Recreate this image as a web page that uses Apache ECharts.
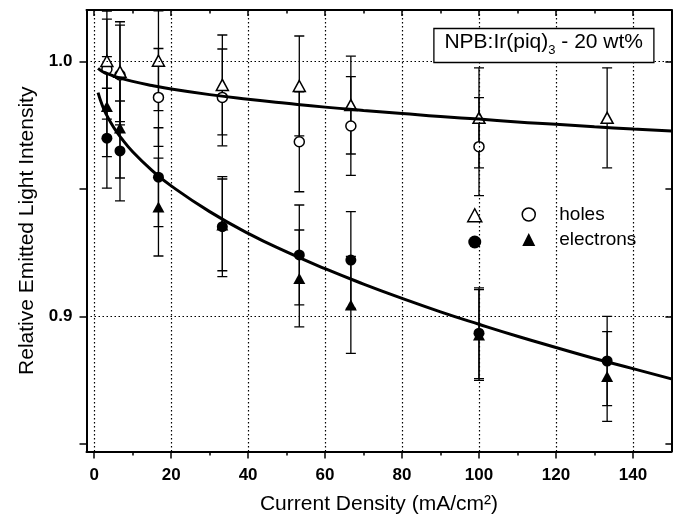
<!DOCTYPE html>
<html><head><meta charset="utf-8">
<script src="https://cdn.jsdelivr.net/npm/echarts@6/dist/echarts.min.js"></script>
<style>html,body{margin:0;padding:0;background:#fff}#c{width:675px;height:515px}</style>
</head><body><div id="c"></div>
<script>
// ---- data ----
const currentDensity = [3.3, 6.7, 16.7, 33.3, 53.3, 66.7, 100, 133.3];
const holesTriangle = [1.0003, 0.9961, 1.0004, 0.9909, 0.9905, 0.9830, 0.9780, 0.9780];
const holesTriangleErr = [0.0196, 0.0196, 0.0196, 0.0196, 0.0196, 0.0192, 0.0196, 0.0196];
const holesCircle = [0.9971, 0.9948, 0.9860, 0.9860, 0.9686, 0.9748, 0.9667, null];
const holesCircleErr = [0.0196, 0.0196, 0.0192, 0.0190, 0.0196, 0.0194, 0.0192, null];
const electronsCircle = [0.9700, 0.9650, 0.9547, 0.9353, 0.9242, 0.9222, 0.8935, 0.8826];
const electronsCircleErr = [0.0196, 0.0196, 0.0194, 0.0196, 0.0196, 0.0190, 0.0178, 0.0175];
const electronsTriangle = [0.9824, 0.9740, 0.9430, 0.9360, 0.9150, 0.9046, 0.8928, 0.8765];
const electronsTriangleErr = [0.0196, 0.0196, 0.0192, 0.0180, 0.0190, 0.0190, 0.0178, 0.0176];
const fitX = [1, 2, 3, 5, 7, 10, 15, 20, 30, 40, 50, 60, 70, 80, 90, 100, 110, 120, 130, 140, 150];
const holesFit = [0.9974, 0.9963, 0.9956, 0.9944, 0.9935, 0.9923, 0.9907, 0.9893, 0.9871, 0.9853, 0.9837, 0.9822, 0.9809, 0.9797, 0.9785, 0.9775, 0.9764, 0.9755, 0.9745, 0.9736, 0.9728];
const electronsFit = [0.9879, 0.9833, 0.9798, 0.9744, 0.9701, 0.9647, 0.9574, 0.9513, 0.9412, 0.9327, 0.9254, 0.9188, 0.9128, 0.9072, 0.9019, 0.8970, 0.8923, 0.8879, 0.8836, 0.8796, 0.8756];
const xMajorTicks = [0, 20, 40, 60, 80, 100, 120, 140];
const xMinorTicks = [10, 30, 50, 70, 90, 110, 130];
const yTicks = [0.85, 0.9, 0.95, 1.0];
const yLabels = [0.9, 1.0];
const xRange = [-2, 150];
const yRange = [0.8471, 1.0203];

const F = '"Liberation Sans", Arial, Helvetica, sans-serif';
const BLACK = '#000';

function pts(xs, ys) {
  return xs.map((x, i) => ys[i] == null ? null : [x, ys[i]]).filter(Boolean);
}
function errData(vals, errs) {
  return currentDensity.map((x, i) => vals[i] == null ? null : [x, vals[i] - errs[i], vals[i] + errs[i]]).filter(Boolean);
}
function errSeries(name, vals, errs) {
  return {
    type: 'custom', name: name, z: 2, silent: true, clip: true,
    data: errData(vals, errs),
    encode: { x: 0, y: [1, 2] },
    renderItem: function (params, api) {
      const x = api.value(0), lo = api.value(1), hi = api.value(2);
      const p1 = api.coord([x, hi]), p2 = api.coord([x, lo]);
      const w = 5;
      const style = { stroke: BLACK, lineWidth: 1.3, fill: null };
      return { type: 'group', children: [
        { type: 'line', shape: { x1: p1[0], y1: p1[1], x2: p2[0], y2: p2[1] }, style: style },
        { type: 'line', shape: { x1: p1[0] - w, y1: p1[1], x2: p1[0] + w, y2: p1[1] }, style: style },
        { type: 'line', shape: { x1: p2[0] - w, y1: p2[1], x2: p2[0] + w, y2: p2[1] }, style: style }
      ]};
    }
  };
}

const openStyle = { color: '#fff', borderColor: BLACK, borderWidth: 1.5, opacity: 1 };
const fillStyle = { color: BLACK, borderColor: BLACK, borderWidth: 0, opacity: 1 };

const baseX = { type: 'value', min: xRange[0], max: xRange[1], gridIndex: 0, splitLine: { show: false } };
const baseY = { type: 'value', min: yRange[0], max: yRange[1], gridIndex: 0, splitLine: { show: false } };

const option = {
  animation: false,
  backgroundColor: '#fff',
  grid: { left: 86.5, right: 3.6, top: 10, bottom: 63.5, containLabel: false, outerBoundsMode: 'none' },
  title: {
    text: '{a|NPB:Ir(piq)}{b|3}{a| - 20 wt%}',
    right: 21, top: 24,
    borderColor: BLACK, borderWidth: 1.3,
    padding: [3, 11, 6, 11],
    backgroundColor: '#fff',
    textStyle: { fontWeight: 'normal', rich: {
      a: { fontFamily: F, fontSize: 21, fontWeight: 'normal', color: BLACK, lineHeight: 30 },
      b: { fontFamily: F, fontSize: 13, fontWeight: 'normal', color: BLACK, lineHeight: 12, verticalAlign: 'bottom' }
    } }
  },
  legend: [
    {
      orient: 'vertical', left: 467, top: 208, padding: 0, itemWidth: 14, itemHeight: 13, itemGap: 13,
      selectedMode: false, formatter: function () { return ''; },
      data: [
        { name: 'holes-triangle', icon: 'triangle', itemStyle: openStyle },
        { name: 'electrons-circle', icon: 'circle', itemStyle: fillStyle }
      ]
    },
    {
      orient: 'vertical', left: 521.5, top: 205, padding: 0, itemWidth: 13, itemHeight: 13, itemGap: 6,
      selectedMode: false,
      formatter: function (n) { return n === 'holes-circle' ? '{t|holes}' : '{t|electrons}'; },
      textStyle: { rich: { t: { fontFamily: F, fontSize: 19, color: BLACK, padding: [0, 0, 0, 19] } } },
      data: [
        { name: 'holes-circle', icon: 'circle', itemStyle: { color: '#fff', borderColor: BLACK, borderWidth: 1.5 } },
        { name: 'electrons-triangle', icon: 'triangle', itemStyle: fillStyle }
      ]
    }
  ],
  xAxis: [
    Object.assign({}, baseX, {
      position: 'bottom',
      name: 'Current Density (mA/cm²)', nameLocation: 'middle', nameGap: 42,
      nameTextStyle: { fontFamily: F, fontSize: 21, color: BLACK },
      axisLine: { show: true, onZero: false, lineStyle: { color: BLACK, width: 2 } },
      axisTick: { show: true, inside: false, length: 7, customValues: xMajorTicks, lineStyle: { color: BLACK, width: 1.5 } },
      axisLabel: { show: true, customValues: xMajorTicks, margin: 15, fontFamily: F, fontSize: 17, fontWeight: 'bold', color: BLACK }
    }),
    Object.assign({}, baseX, {
      position: 'bottom',
      axisLine: { show: false, onZero: false },
      axisTick: { show: true, inside: false, length: 4, customValues: xMinorTicks, lineStyle: { color: BLACK, width: 1.5 } },
      axisLabel: { show: false }
    }),
    Object.assign({}, baseX, {
      position: 'top',
      axisLine: { show: true, onZero: false, lineStyle: { color: BLACK, width: 2 } },
      axisTick: { show: true, inside: true, length: 6, customValues: xMajorTicks, lineStyle: { color: BLACK, width: 1.5 } },
      axisLabel: { show: false }
    }),
    Object.assign({}, baseX, {
      position: 'top',
      axisLine: { show: false, onZero: false },
      axisTick: { show: true, inside: true, length: 3.5, customValues: xMinorTicks, lineStyle: { color: BLACK, width: 1.5 } },
      axisLabel: { show: false }
    })
  ],
  yAxis: [
    Object.assign({}, baseY, {
      position: 'left',
      name: 'Relative Emitted Light Intensity', nameLocation: 'middle', nameGap: 44,
      nameTextStyle: { fontFamily: F, fontSize: 21, color: BLACK },
      axisLine: { show: true, onZero: false, lineStyle: { color: BLACK, width: 2 } },
      axisTick: { show: true, inside: false, length: 7, customValues: yTicks, lineStyle: { color: BLACK, width: 1.5 } },
      axisLabel: { show: true, customValues: yLabels, margin: 14, fontFamily: F, fontSize: 17, fontWeight: 'bold', color: BLACK,
        formatter: function (v) { return Number(v).toFixed(1); } }
    }),
    Object.assign({}, baseY, {
      position: 'right',
      axisLine: { show: true, onZero: false, lineStyle: { color: BLACK, width: 2 } },
      axisTick: { show: true, inside: true, length: 6, customValues: yTicks, lineStyle: { color: BLACK, width: 1.5 } },
      axisLabel: { show: false }
    })
  ],
  series: [
    {
      name: 'grid', type: 'line', z: 1, silent: true, data: [], showSymbol: false,
      markLine: {
        silent: true, symbol: ['none', 'none'], label: { show: false }, animation: false,
        lineStyle: { color: BLACK, width: 1.2, type: [1.5, 2.5] },
        emphasis: { disabled: true },
        data: xMajorTicks.map(v => ({ xAxis: v })).concat(yLabels.map(v => ({ yAxis: v })))
      }
    },
    errSeries('holes-triangle-err', holesTriangle, holesTriangleErr),
    errSeries('holes-circle-err', holesCircle, holesCircleErr),
    errSeries('electrons-circle-err', electronsCircle, electronsCircleErr),
    errSeries('electrons-triangle-err', electronsTriangle, electronsTriangleErr),
    { name: 'holes-circle', type: 'scatter', z: 3, symbol: 'circle', symbolSize: 10, data: pts(currentDensity, holesCircle), itemStyle: openStyle },
    { name: 'holes-triangle', type: 'scatter', z: 4, symbol: 'triangle', symbolSize: [12, 11], data: pts(currentDensity, holesTriangle), itemStyle: openStyle },
    { name: 'electrons-circle', type: 'scatter', z: 3, symbol: 'circle', symbolSize: 11, data: pts(currentDensity, electronsCircle), itemStyle: fillStyle },
    { name: 'electrons-triangle', type: 'scatter', z: 4, symbol: 'triangle', symbolSize: [12, 11], data: pts(currentDensity, electronsTriangle), itemStyle: fillStyle },
    { name: 'holes-fit', type: 'line', z: 5, smooth: true, showSymbol: false, symbol: 'none', silent: true,
      data: pts(fitX, holesFit), lineStyle: { color: BLACK, width: 3 } },
    { name: 'electrons-fit', type: 'line', z: 5, smooth: true, showSymbol: false, symbol: 'none', silent: true,
      data: pts(fitX, electronsFit), lineStyle: { color: BLACK, width: 3 } }
  ]
};

const chart = echarts.init(document.getElementById('c'), null, { renderer: 'canvas' });
chart.setOption(option);
</script>
</body></html>
